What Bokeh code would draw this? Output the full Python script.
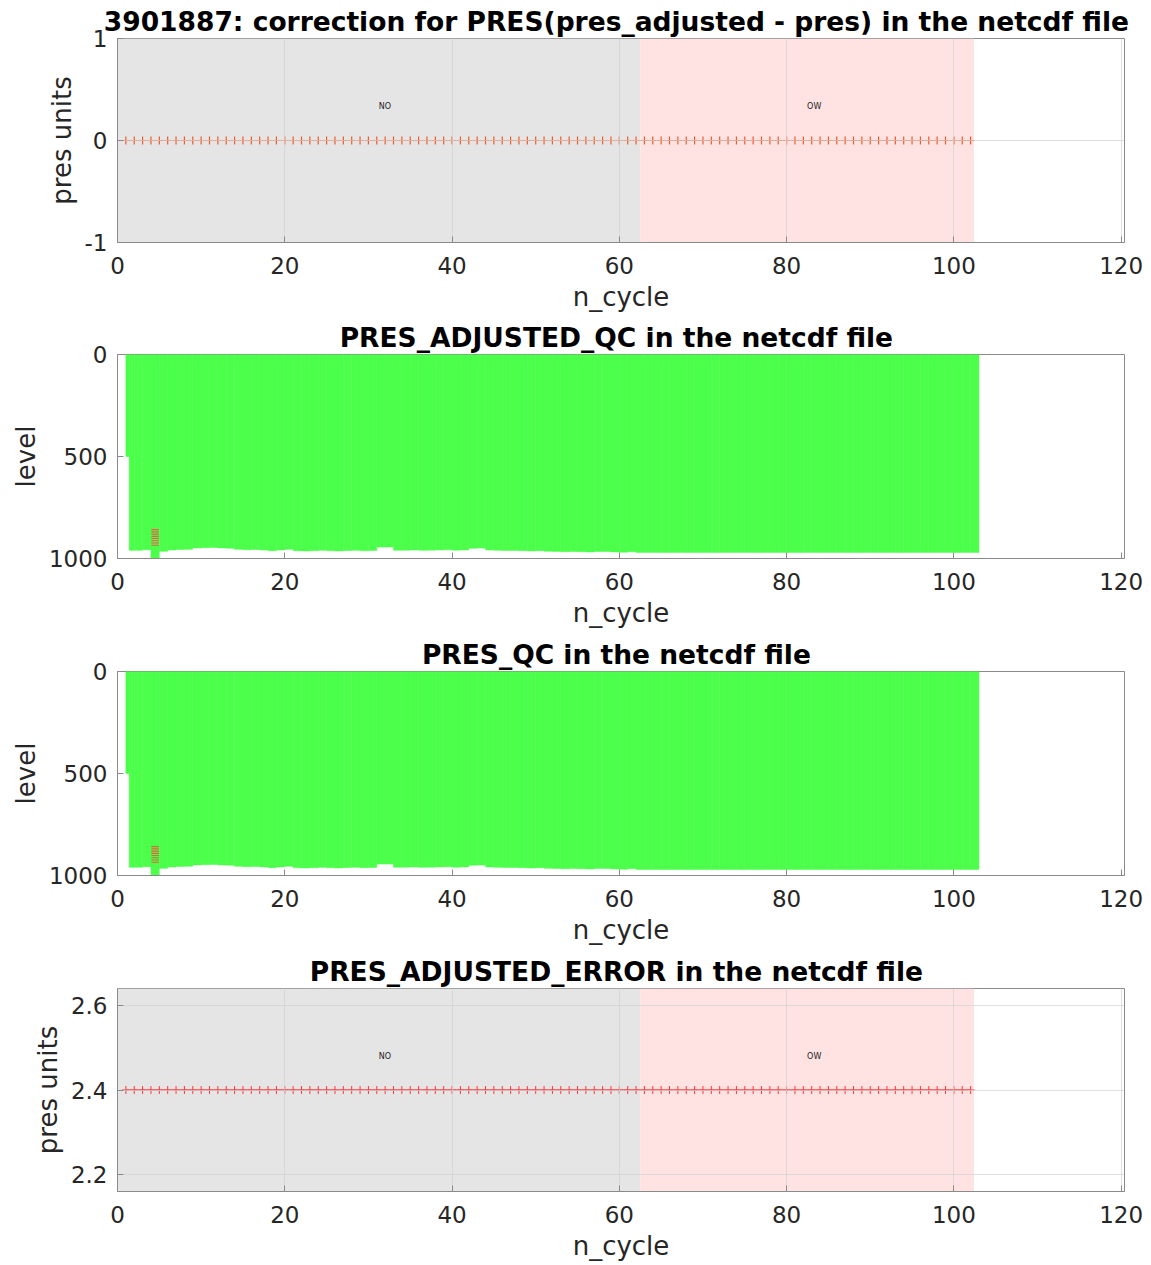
from bokeh.plotting import figure
from bokeh.models import Range1d, BoxAnnotation, FixedTicker, Label
from bokeh.layouts import column
from bokeh.embed import file_html
from bokeh.resources import INLINE

# ---------------- data ----------------
float_id = "3901887"
cycles = list(range(1, 103))
pres_correction = [
    0, 0, 0, 0, 0, 0, 0, 0, 0, 0, 0, 0, 0, 0, 0, 0, 0,
    0, 0, 0, 0, 0, 0, 0, 0, 0, 0, 0, 0, 0, 0, 0, 0, 0,
    0, 0, 0, 0, 0, 0, 0, 0, 0, 0, 0, 0, 0, 0, 0, 0, 0,
    0, 0, 0, 0, 0, 0, 0, 0, 0, 0, 0, 0, 0, 0, 0, 0, 0,
    0, 0, 0, 0, 0, 0, 0, 0, 0, 0, 0, 0, 0, 0, 0, 0, 0,
    0, 0, 0, 0, 0, 0, 0, 0, 0, 0, 0, 0, 0, 0, 0, 0, 0,
]
pres_adjusted_error = [
    2.4, 2.4, 2.4, 2.4, 2.4, 2.4, 2.4, 2.4, 2.4, 2.4, 2.4, 2.4, 2.4, 2.4, 2.4, 2.4, 2.4,
    2.4, 2.4, 2.4, 2.4, 2.4, 2.4, 2.4, 2.4, 2.4, 2.4, 2.4, 2.4, 2.4, 2.4, 2.4, 2.4, 2.4,
    2.4, 2.4, 2.4, 2.4, 2.4, 2.4, 2.4, 2.4, 2.4, 2.4, 2.4, 2.4, 2.4, 2.4, 2.4, 2.4, 2.4,
    2.4, 2.4, 2.4, 2.4, 2.4, 2.4, 2.4, 2.4, 2.4, 2.4, 2.4, 2.4, 2.4, 2.4, 2.4, 2.4, 2.4,
    2.4, 2.4, 2.4, 2.4, 2.4, 2.4, 2.4, 2.4, 2.4, 2.4, 2.4, 2.4, 2.4, 2.4, 2.4, 2.4, 2.4,
    2.4, 2.4, 2.4, 2.4, 2.4, 2.4, 2.4, 2.4, 2.4, 2.4, 2.4, 2.4, 2.4, 2.4, 2.4, 2.4, 2.4,
]

# calibration periods
region_labels = ["NO", "OW"]
region_start = [0.0, 62.5]
region_end = [62.5, 102.4]
region_colors = ["#e5e5e5", "#ffe3e3"]

# QC map: column edges (n_cycle) and deepest level of each profile
qc_left = [1.0, 1.4] + list(range(2, 103))
qc_right = [1.4, 2] + list(range(3, 104))
qc_top_level = 0
qc_max_level = [
    500, 960, 960, 957, 1000, 965, 958, 956, 955, 948,
    947, 946, 948, 950, 955, 957, 956, 958, 962, 958,
    955, 962, 963, 962, 960, 962, 963, 961, 960, 962,
    961, 944, 944, 960, 959, 958, 960, 959, 958, 957,
    959, 958, 950, 949, 958, 960, 961, 961, 962, 963,
    962, 965, 966, 967, 966, 967, 968, 966, 966, 968,
    969, 967, 970, 970, 970, 971, 970, 970, 971, 970,
    970, 971, 970, 970, 970, 970, 971, 970, 970, 970,
    970, 971, 970, 970, 970, 970, 970, 971, 970, 970,
    970, 970, 970, 971, 970, 970, 970, 970, 970, 970,
    970, 970, 970,
]
bad_qc_cycle = 4
bad_qc_levels = [858, 869, 880, 891, 902, 913, 924, 935]

x_ticks = [0, 20, 40, 60, 80, 100, 120]
corr_ticks = [-1, 0, 1]
level_ticks = [0, 500, 1000]
err_ticks = [2.2, 2.4, 2.6]

FONT = "DejaVu Sans"
AX = "#8a8a8a"


def make_fig(title, y_range, height, top, bottom, yticks, ylabel, grid=True):
    p = figure(width=1151, height=height, x_range=Range1d(0, 120.4), y_range=y_range,
               output_backend="svg", toolbar_location=None,
               min_border_left=117, min_border_right=27,
               min_border_top=top, min_border_bottom=bottom)
    p.title.text = title
    p.title.align = "center"
    p.title.text_font = FONT
    p.title.text_font_size = "26.5px"
    p.title.text_font_style = "bold"
    p.title.text_color = "black"
    p.title.standoff = 4
    p.xaxis.ticker = FixedTicker(ticks=x_ticks)
    p.yaxis.ticker = FixedTicker(ticks=yticks)
    p.yaxis.major_label_overrides = {-1: "-1"}
    p.xaxis.axis_label = "n_cycle"
    p.yaxis.axis_label = ylabel
    for ax in (p.xaxis[0], p.yaxis[0]):
        ax.major_label_text_font = FONT
        ax.major_label_text_font_size = "23px"
        ax.major_label_text_color = "#262626"
        ax.axis_label_text_font = FONT
        ax.axis_label_text_font_size = "26px"
        ax.axis_label_text_font_style = "normal"
        ax.axis_label_text_color = "#262626"
        ax.axis_line_color = AX
        ax.major_tick_line_color = AX
        ax.major_tick_in = 6
        ax.major_tick_out = 0
        ax.minor_tick_line_color = None
    p.xaxis.major_label_standoff = 14
    p.xaxis.axis_label_standoff = 5
    p.yaxis.major_label_standoff = 10
    p.yaxis.axis_label_standoff = 5
    p.outline_line_color = AX
    p.outline_line_alpha = 1
    if grid:
        p.xgrid.ticker = FixedTicker(ticks=x_ticks)
        p.ygrid.ticker = FixedTicker(ticks=yticks)
        p.grid.grid_line_color = "#d2d2d2"
        p.grid.grid_line_alpha = 0.7
        p.grid.level = "glyph"
    else:
        p.grid.visible = False
    return p


def add_regions(p, ylab):
    for lab, s, e, c in zip(region_labels, region_start, region_end, region_colors):
        p.add_layout(BoxAnnotation(left=s, right=e, fill_color=c, fill_alpha=1,
                                   line_color=None, level="underlay"))
        p.add_layout(Label(x=(s + e) / 2, y=ylab, text=lab, text_font=FONT,
                           text_font_size="8px", text_color="#222222",
                           text_align="left", text_baseline="middle"))


# ---------------- panel 1 ----------------
p1 = make_fig(f"{float_id}: correction  for PRES(pres_adjusted - pres) in the netcdf file",
              Range1d(-1, 1), 317, 38, 75, corr_ticks, "pres units")
add_regions(p1, 0.33)
p1.line(cycles, pres_correction, line_color="#f26a3a", line_width=1, line_alpha=0.5)
p1.scatter(cycles, pres_correction, marker="cross", size=8, line_color="#f05a28", line_width=1.2)

# ---------------- panels 2 & 3 ----------------
def qc_fig(title, height, top, bottom, flag_color):
    p = make_fig(title, Range1d(1000, 0), height, top, bottom, level_ticks, "level", grid=False)
    p.quad(left=qc_left, right=qc_right, top=qc_top_level, bottom=qc_max_level,
           fill_color="#4bff4b", line_color="#4bff4b", line_width=0.5)
    p.rect(x=[bad_qc_cycle + 0.5] * len(bad_qc_levels), y=bad_qc_levels,
           width=0.9, height=6, fill_color=flag_color, line_color=None, fill_alpha=1)
    return p


p2 = qc_fig("PRES_ADJUSTED_QC  in the netcdf file", 317, 37, 76, "#f25a48")
p3 = qc_fig("PRES_QC  in the netcdf file", 317, 37, 76, "#e0663a")

# ---------------- panel 4 ----------------
p4 = make_fig("PRES_ADJUSTED_ERROR  in the netcdf file",
              Range1d(2.16, 2.64), 314, 37, 74, err_ticks, "pres units")
add_regions(p4, 2.48)
p4.line(cycles, pres_adjusted_error, line_color="#ff4040", line_width=1.2)
p4.scatter(cycles, pres_adjusted_error, marker="cross", size=8, line_color="#ff3a3a", line_width=1)

layout = column(p1, p2, p3, p4, spacing=0)
open("out.html", "w").write(file_html(layout, INLINE))
